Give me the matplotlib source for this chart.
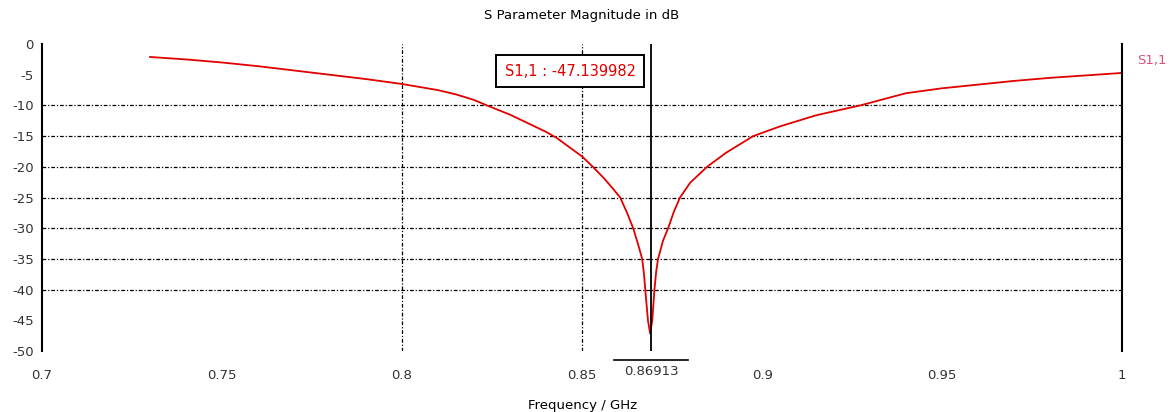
import matplotlib
matplotlib.use('Agg')
import matplotlib.pyplot as plt

# S11 magnitude
freq_ghz = [0.73, 0.74, 0.75, 0.76, 0.77, 0.78, 0.79, 0.80, 0.81, 0.815, 0.82, 0.8236,
            0.83, 0.835, 0.84, 0.843, 0.846, 0.85, 0.853, 0.856, 0.8585, 0.8606,
            0.8625, 0.8642, 0.8655, 0.8667, 0.8672, 0.8677, 0.8683, 0.8689, 0.8695,
            0.8701, 0.8706, 0.8711, 0.8725, 0.8739, 0.8755, 0.8772, 0.880, 0.8847,
            0.89, 0.8975, 0.905, 0.915, 0.9272, 0.94, 0.95, 0.96, 0.97, 0.98, 0.99, 1.0]
s11_db = [-2.1, -2.5, -3.0, -3.6, -4.3, -5.0, -5.7, -6.5, -7.5, -8.2, -9.1, -10.0,
          -11.5, -12.9, -14.3, -15.3, -16.6, -18.3, -20.0, -21.8, -23.5, -25.0,
          -27.5, -30.0, -32.5, -35.0, -37.5, -41.0, -45.0, -47.14, -45.0,
          -40.0, -37.0, -35.0, -32.0, -30.0, -27.3, -25.0, -22.6, -20.0,
          -17.7, -15.0, -13.4, -11.6, -10.0, -8.0, -7.2, -6.6, -6.0, -5.5, -5.1, -4.7]

x_ticks = [0.7, 0.75, 0.8, 0.85, 0.9, 0.95, 1.0]
x_tick_labels = ['0.7', '0.75', '0.8', '0.85', '0.9', '0.95', '1']
y_ticks = [0, -5, -10, -15, -20, -25, -30, -35, -40, -45, -50]
h_grid = [-10, -15, -20, -25, -30, -35, -40]
v_grid = [0.8, 0.85]

marker_freq = 0.86913
marker_value = -47.139982

plt.rcParams['font.family'] = 'DejaVu Sans'
plt.rcParams['axes.unicode_minus'] = False
fig = plt.figure(figsize=(11.74, 4.12), dpi=100)
ax = fig.add_axes([0.0358, 0.148, 0.92, 0.745])

ax.plot(freq_ghz, s11_db, color='#e00000', lw=1.3)

grid_style = dict(color='black', lw=0.9, linestyle=(0, (3, 1.5, 1, 1.5)), zorder=0)
for g in h_grid:
    ax.axhline(g, **grid_style)
for g in v_grid:
    ax.axvline(g, **grid_style)

# marker
ax.axvline(marker_freq, color='black', lw=1.3, zorder=3)
ax.text(0.8467, -4.4, 'S1,1 : %.6f' % marker_value, color='#e00000', fontsize=10.5,
        ha='center', va='center',
        bbox=dict(boxstyle='square,pad=0.6', fc='white', ec='black', lw=1.4))
ax.text(marker_freq, -53.4, '%.5f' % marker_freq, fontsize=9.5, ha='center', va='center',
        color='#333333')
ax.plot([marker_freq - 0.0103, marker_freq + 0.0103], [-51.4, -51.4], color='black',
        lw=1.2, clip_on=False)

ax.set_xlim(0.7, 1.0)
ax.set_ylim(-50, 0)
ax.set_xticks(x_ticks)
ax.set_xticklabels(x_tick_labels)
ax.set_yticks(y_ticks)
ax.tick_params(axis='both', labelsize=9.5, colors='#333333', length=0)
ax.tick_params(axis='x', pad=13)
ax.tick_params(axis='y', pad=6)

for s in ['top', 'bottom']:
    ax.spines[s].set_visible(False)
ax.spines['left'].set_linewidth(1.5)
ax.spines['right'].set_linewidth(1.5)

ax.text(1.0042, -2.6, 'S1,1', color='#e05070', fontsize=9.5, ha='left', va='center')

ax.set_title('S Parameter Magnitude in dB', fontsize=9.5, pad=18)
ax.set_xlabel('Frequency / GHz', fontsize=9.5, labelpad=12)

fig.savefig('out.png', dpi=100)
